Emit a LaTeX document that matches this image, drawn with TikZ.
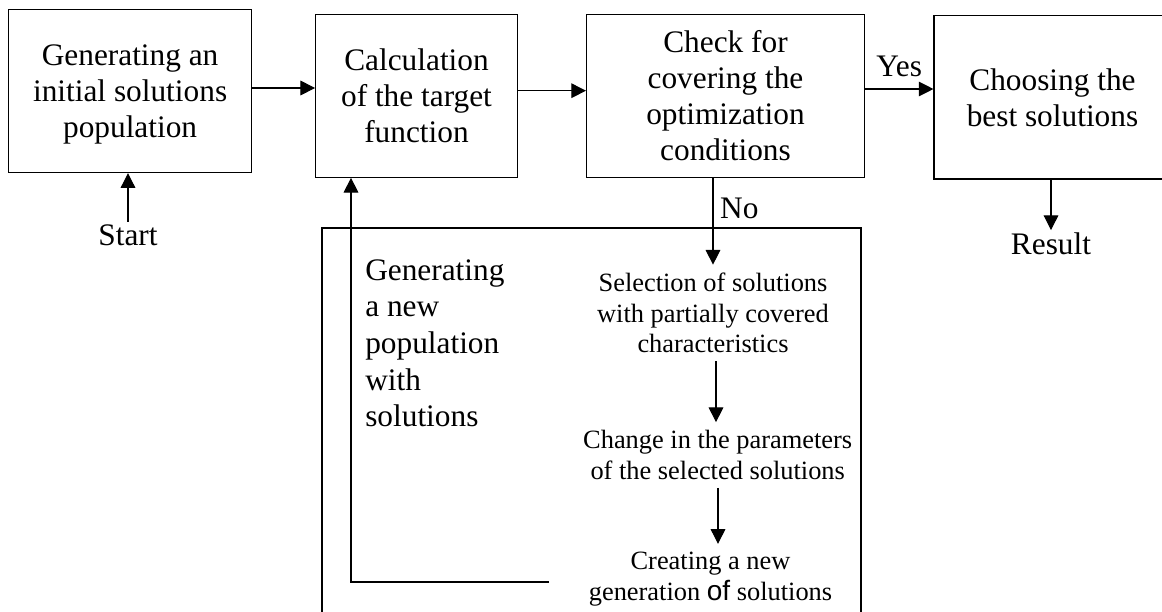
\documentclass[tikz,border=0pt]{standalone}
\usepackage{fontspec}
\setmainfont{Liberation Serif}
\newfontfamily\sansof{Liberation Sans}
\usetikzlibrary{arrows.meta}

\begin{document}
\begin{tikzpicture}[x=0.75pt,y=-0.75pt,
    blk/.style={draw,line width=0.8pt,align=center,inner sep=0pt,text depth=0pt,
        font=\fontsize{23.5}{27}\selectfont},
    lbl/.style={inner sep=2pt,font=\fontsize{23.5}{26.5}\selectfont},
    small/.style={align=center,inner xsep=0pt,inner ysep=6pt,
        font=\fontsize{19.8}{23}\selectfont},
    arr/.style={line width=0.8pt,-{Triangle[length=11pt,width=11pt]}}]

    \useasboundingbox (0,0) rectangle (1162,611);

    % main row
    \node[blk,minimum width=182.6pt,minimum height=122.5pt] (gen) at (130.1,91)
        {Generating an\\initial solutions\\population};
    \node[blk,minimum width=151.3pt,minimum height=122.3pt] (calc) at (416.5,95.8)
        {Calculation\\of the target\\function};
    \node[blk,minimum width=208.5pt,minimum height=122.3pt] (check) at (725.5,95.8)
        {Check for\\covering the\\optimization\\conditions};
    \node[blk,minimum width=177.8pt,minimum height=122.5pt] (best) at (1052.5,97.3)
        {Choosing the\\best solutions};

    \node[lbl] (start) at (128,235) {Start};
    \node[lbl] (res) at (1051,244) {Result};

    \draw[arr] (start.north) -- (start.north |- gen.south);
    \draw[arr] (gen.east |- 0,88) -- (calc.west |- 0,88);
    \draw[arr] (calc.east |- 0,90.7) -- (check.west |- 0,90.7);
    \draw[arr] (check.east |- 0,89) -- (best.west |- 0,89)
        node[midway,above=7pt,lbl] (yes) {Yes};
    \draw[arr] (res.north |- best.south) -- (res.north);

    % new population block
    \draw[line width=1.5pt] (322,228) rectangle (861,650);
    \node[lbl,align=left,anchor=north west,inner sep=0pt,
        font=\fontsize{23.5}{27.5}\selectfont] (newpop) at (365,259)
        {Generating\\a new\\population\\with\\solutions};

    \node[small] (sel) at (713,313)
        {Selection of solutions\\with partially covered\\characteristics};
    \node[small] (chg) at (717.7,455)
        {Change in the parameters\\of the selected solutions};
    \node[small] (cre) at (710.5,579)
        {Creating a new\\generation {\sansof\fontsize{21}{23}\selectfont of} solutions};

    \draw[arr] (sel.north |- check.south) -- (sel.north)
        node[pos=0.35,right=3pt,lbl] (no) {No};
    \draw[arr] (sel.south -| 716,0) -- (chg.north -| 716,0);
    \draw[arr] (chg.south -| 718,0) -- (cre.north -| 718,0);

    % feedback to the target function
    \coordinate (fb) at (549,582);
    \coordinate (fbcorner) at (351,582);
    \draw[arr] (fb) -- (fbcorner) -- (fbcorner |- calc.south);

\end{tikzpicture}
\end{document}
